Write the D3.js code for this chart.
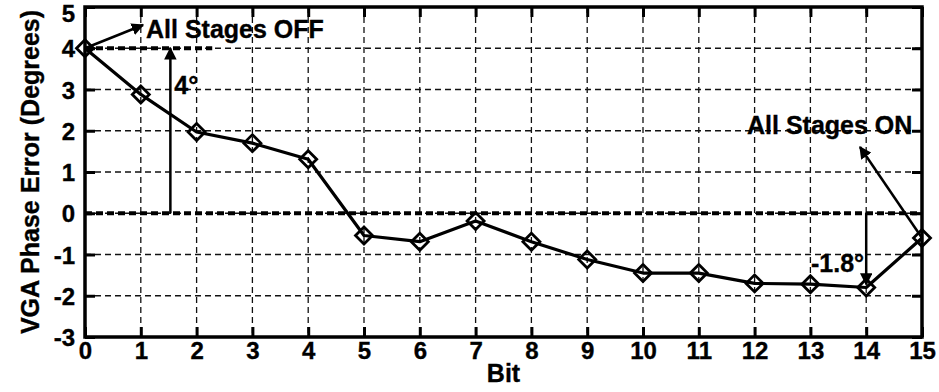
<!DOCTYPE html>
<html>
<head>
<meta charset="utf-8">
<script src="https://cdn.jsdelivr.net/npm/d3@7/dist/d3.min.js"></script>
<style>
  html, body { margin: 0; padding: 0; background: #fff; }
  svg { display: block; }
  text { font-family: "Liberation Sans", Arial, Helvetica, sans-serif; font-weight: bold; fill: #000; stroke: #000; stroke-width: 0.35px; }
</style>
</head>
<body>
<svg id="chart" width="939" height="392"></svg>
<script>
// Phase error of the VGA for each control bit
const bits = [0, 1, 2, 3, 4, 5, 6, 7, 8, 9, 10, 11, 12, 13, 14, 15];
const phaseError = [4.0, 2.88, 1.97, 1.7, 1.31, -0.54, -0.69, -0.19, -0.69, -1.12, -1.45, -1.45, -1.7, -1.72, -1.8, -0.6];
const xTicks = [0, 1, 2, 3, 4, 5, 6, 7, 8, 9, 10, 11, 12, 13, 14, 15];
const yTicks = [-3, -2, -1, 0, 1, 2, 3, 4, 5];

const svg = d3.select("#chart");
const margin = { left: 85, right: 17, top: 7, bottom: 55 };
const W = 939, H = 392;
const x = d3.scaleLinear().domain([0, 15]).range([margin.left, W - margin.right]);
const y = d3.scaleLinear().domain([-3, 5]).range([H - margin.bottom, margin.top]);
const fmt = d => String(d); // plain hyphen for negatives

// dashed grid
const grid = svg.append("g");
grid.selectAll("line.vx").data(xTicks.slice(1, -1)).join("line")
  .attr("x1", d => x(d)).attr("x2", d => x(d))
  .attr("y1", y(5)).attr("y2", y(-3))
  .attr("stroke", "#111").attr("stroke-width", 1.3).attr("stroke-dasharray", "6,4");
grid.selectAll("line.hy").data(yTicks.slice(1, -1)).join("line")
  .attr("x1", x(0)).attr("x2", x(15))
  .attr("y1", d => y(d)).attr("y2", d => y(d))
  .attr("stroke", "#111").attr("stroke-width", 1.3).attr("stroke-dasharray", "6,4");

// axes with inward ticks on all four sides
const tickLen = 10;
const bottomAxis = d3.axisBottom(x).tickValues(xTicks).tickSize(-tickLen).tickFormat(fmt);
const topAxis = d3.axisTop(x).tickValues(xTicks).tickSize(-tickLen).tickFormat("");
const leftAxis = d3.axisLeft(y).tickValues(yTicks).tickSize(-tickLen).tickFormat(fmt);
const rightAxis = d3.axisRight(y).tickValues(yTicks).tickSize(-tickLen).tickFormat("");

function styleAxis(g) {
  g.select(".domain").remove();
  g.selectAll(".tick line").attr("stroke", "#000").attr("stroke-width", 3);
  g.selectAll(".tick text")
    .style("font-size", "24px")
    .style("font-family", "'Liberation Sans', Arial, sans-serif")
    .style("font-weight", "bold")
    .attr("fill", "#000");
}
svg.append("g").attr("transform", `translate(0,${y(-3)})`).call(bottomAxis).call(styleAxis)
  .selectAll(".tick text").attr("y", 5).attr("dy", "0.72em");
svg.append("g").attr("transform", `translate(${x(0)},0)`).call(leftAxis).call(styleAxis)
  .selectAll(".tick text").attr("x", -10).attr("dy", "0.36em")
  // keep the topmost label inside the canvas
  .attr("y", d => d === 5 ? 6 : 0);
svg.append("g").attr("transform", `translate(0,${y(5)})`).call(topAxis).call(styleAxis);
svg.append("g").attr("transform", `translate(${x(15)},0)`).call(rightAxis).call(styleAxis);

// reference lines at 0 and at the all-off level
svg.append("line").attr("x1", x(0)).attr("x2", x(15)).attr("y1", y(0)).attr("y2", y(0))
  .attr("stroke", "#000").attr("stroke-width", 4).attr("stroke-dasharray", "7,4");
svg.append("line").attr("x1", x(0)).attr("x2", x(2.28)).attr("y1", y(4)).attr("y2", y(4))
  .attr("stroke", "#000").attr("stroke-width", 4).attr("stroke-dasharray", "7,4");

// frame
svg.append("rect").attr("x", x(0)).attr("y", y(5)).attr("width", x(15) - x(0)).attr("height", y(-3) - y(5))
  .attr("fill", "none").attr("stroke", "#000").attr("stroke-width", 3.5);

// arrowhead
const defs = svg.append("defs");
defs.append("marker").attr("id", "arrow").attr("viewBox", "0 0 10 10").attr("refX", 9).attr("refY", 5)
  .attr("markerWidth", 5).attr("markerHeight", 5).attr("markerUnits", "strokeWidth").attr("orient", "auto")
  .append("path").attr("d", "M0,0 L10,5 L0,10 Z").attr("fill", "#000");

// data line and diamond markers
const pts = bits.map((b, i) => [b, phaseError[i]]);
svg.append("path").datum(pts)
  .attr("d", d3.line().x(d => x(d[0])).y(d => y(d[1])))
  .attr("fill", "none").attr("stroke", "#000").attr("stroke-width", 3.2).attr("stroke-linejoin", "round");
svg.append("g").selectAll("path").data(pts).join("path")
  .attr("transform", d => `translate(${x(d[0])},${y(d[1])})`)
  .attr("d", "M0,-8.5 L8.5,0 L0,8.5 L-8.5,0 Z")
  .attr("fill", "none").attr("stroke", "#000").attr("stroke-width", 2.8);

// annotations
const ann = svg.append("g");
function arrow(x1, y1, x2, y2) {
  ann.append("line").attr("x1", x1).attr("y1", y1).attr("x2", x2).attr("y2", y2)
    .attr("stroke", "#000").attr("stroke-width", 2.5).attr("marker-end", "url(#arrow)");
}
// span of the all-off error above zero
arrow(x(1.53), y(0), x(1.53), y(4));
ann.append("text").attr("x", x(1.53) + 4).attr("y", 94).style("font-size", "25px").text("4°");
// pointer to the all-off label
arrow(x(bits[0]), y(phaseError[0]), x(1.04), 25);
ann.append("text").attr("x", 146).attr("y", 38).style("font-size", "25px").text("All Stages OFF");
// span of the all-on error below zero
arrow(x(14), y(0), x(14), y(phaseError[14]) - 3);
ann.append("text").attr("x", 811).attr("y", 272).style("font-size", "25px").text("-1.8°");
// pointer to the all-on label
arrow(x(bits[15]), y(phaseError[15]), 860, 147);
ann.append("text").attr("x", 747).attr("y", 134).style("font-size", "25px").text("All Stages ON");

// axis titles
svg.append("text").attr("x", (x(0) + x(15)) / 2).attr("y", 382).attr("text-anchor", "middle")
  .style("font-size", "25px").text("Bit");
svg.append("text").attr("transform", `translate(39,${(y(5) + y(-3)) / 2}) rotate(-90)`).attr("text-anchor", "middle")
  .style("font-size", "25px").text("VGA Phase Error (Degrees)");
</script>
</body>
</html>
